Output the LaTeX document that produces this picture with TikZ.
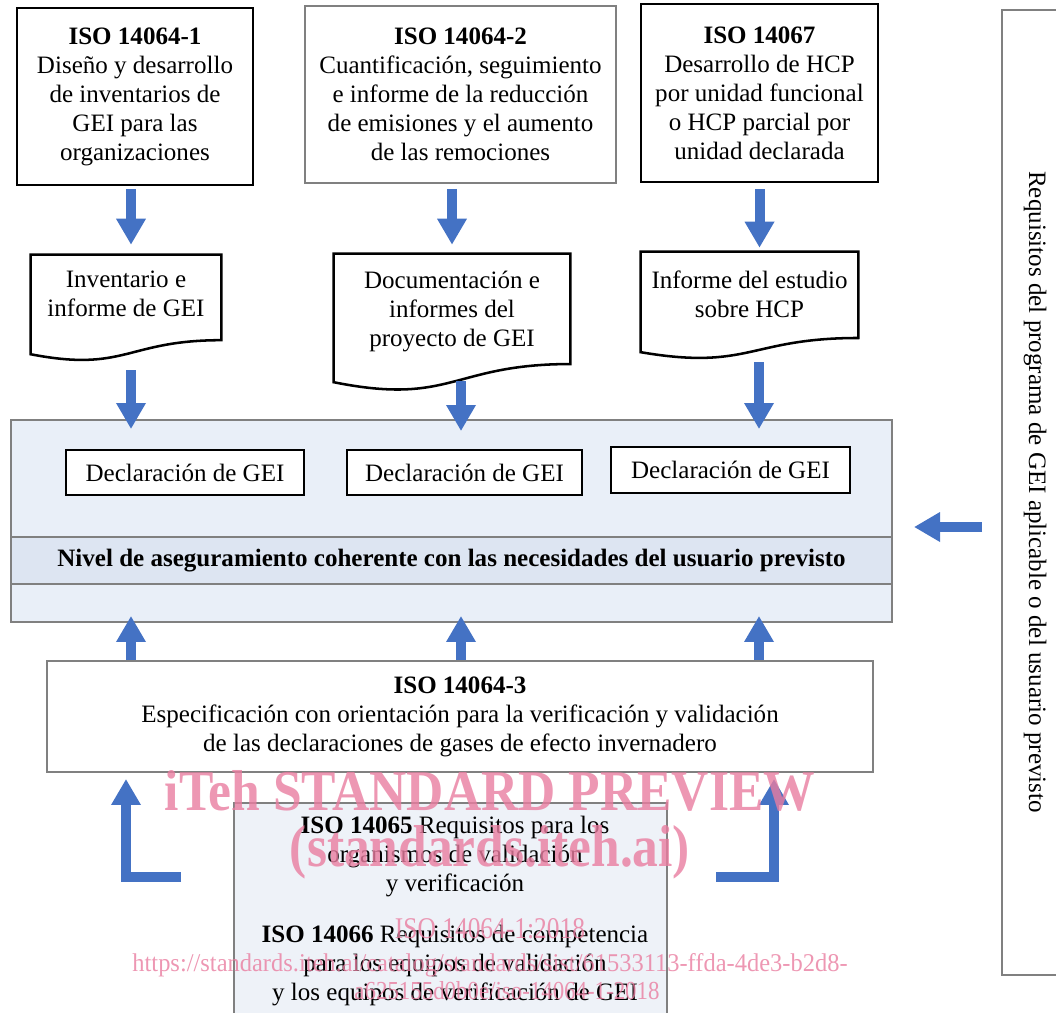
\documentclass[tikz,border=0pt]{standalone}
\usepackage{fontspec}
\setmainfont{Liberation Serif}
\usepackage{xcolor}
\usetikzlibrary{arrows.meta,calc}

\definecolor{arrowblue}{RGB}{68,114,196}
\definecolor{boxgrey}{RGB}{128,128,128}
\definecolor{panelblue}{RGB}{233,239,248}
\definecolor{bandblue}{RGB}{221,229,242}
\definecolor{lowblue}{RGB}{238,242,248}
\definecolor{wmpink}{RGB}{233,125,160}

\newdimen\pxu
\pxu=0.025cm

\tikzset{
  stdbox/.style={draw=black, line width=1.8pt, fill=white, align=center, inner sep=0pt},
  greybox/.style={draw=boxgrey, line width=1.4pt, align=center, inner sep=0pt},
  docframe/.style={inner sep=0pt},
  doctext/.style={anchor=north, align=center, inner sep=0pt},
  bluearrow/.style={draw=arrowblue, line width=10*\pxu, line join=miter,
    -{Triangle[width=0pt 2.8, length=0pt 2.6]}},
  watermark/.style={text=wmpink, text opacity=0.8, inner sep=0pt, anchor=base}
}

% document outline with wavy bottom
\newcommand\docoutline[1]{%
  \draw[draw=black, line width=1.8pt, fill=white] (#1.north west) -- (#1.north east)
    -- ($(#1.north east)!0.802!(#1.south east)$)
    .. controls ($(#1.north)!0.802!(#1.south)$) and ($(#1.north)!1.107!(#1.south)$)
    .. ($(#1.north west)!0.934!(#1.south west)$) -- cycle;}

\begin{document}
\begin{tikzpicture}[x=\pxu, y=-\pxu, font=\fontsize{17.8}{20.6}\selectfont]

        \clip (0,0) rectangle (1056,1012);

        % standards on top
        \node [stdbox, minimum width=236*\pxu, minimum height=177*\pxu] (iso1) at (135,96.5)
          {\textbf{ISO 14064-1}\\Diseño y desarrollo\\de inventarios de\\GEI para las\\organizaciones};
        \node [greybox, fill=white, minimum width=311*\pxu, minimum height=177*\pxu] (iso2) at (460.5,94.5)
          {\textbf{ISO 14064-2}\\Cuantificación, seguimiento\\e informe de la reducción\\de emisiones y el aumento\\de las remociones};
        \node [stdbox, minimum width=237*\pxu, minimum height=178*\pxu] (iso3) at (759.5,93)
          {\textbf{ISO 14067}\\Desarrollo de HCP\\por unidad funcional\\o HCP parcial por\\unidad declarada};

        % reports
        \node [docframe, minimum width=190*\pxu, minimum height=106*\pxu] (inv) at (126,308) {};
        \node [docframe, minimum width=236*\pxu, minimum height=137*\pxu] (proj) at (452,322.5) {};
        \node [docframe, minimum width=217*\pxu, minimum height=107*\pxu] (hcp) at (749.5,305.5) {};
        \docoutline{inv}
        \docoutline{proj}
        \docoutline{hcp}
        \node [doctext] (invtext) at ($(inv.north)+(0,16)$) {Inventario e\\informe de GEI};
        \node [doctext] (projtext) at ($(proj.north)+(0,17)$) {Documentación e\\informes del\\proyecto de GEI};
        \node [doctext] (hcptext) at ($(hcp.north)+(0,19)$) {Informe del estudio\\sobre HCP};

        % declarations panel
        \node [greybox, fill=panelblue, minimum width=881*\pxu, minimum height=202*\pxu] (panel) at (451.5,521) {};
        \node [greybox, fill=bandblue, minimum width=881*\pxu, minimum height=47*\pxu] (band) at (451.5,560.5)
          {\textbf{Nivel de aseguramiento coherente con las necesidades del usuario previsto}};
        \node [stdbox, minimum width=238*\pxu, minimum height=45*\pxu] (decl1) at (185,472.5) {Declaración de GEI};
        \node [stdbox, minimum width=235*\pxu, minimum height=45*\pxu] (decl2) at (464.5,472.5) {Declaración de GEI};
        \node [stdbox, minimum width=239*\pxu, minimum height=46*\pxu] (decl3) at (730.5,470) {Declaración de GEI};

        \node [greybox, fill=white, minimum width=826*\pxu, minimum height=111*\pxu] (iso4) at (460,716.5)
          {\textbf{ISO 14064-3}\\Especificación con orientación para la verificación y validación\\de las declaraciones de gases de efecto invernadero};

        \node [greybox, fill=lowblue, minimum width=433*\pxu, minimum height=230*\pxu] (vvbox) at (450.5,918) {};
        \node [doctext] (vvtext) at ($(vvbox.north)+(4.5,14)$)
          {\textbf{ISO 14065} Requisitos para los\\organismos de validación\\y verificación\\[0.55cm]
           \textbf{ISO 14066} Requisitos de competencia\\para los equipos de validación\\y los equipos de verificación de GEI};

        \node [greybox, minimum width=70*\pxu, minimum height=965*\pxu] (side) at (1037,492.5) {};
        \node [rotate=-90, inner sep=0pt] (sidetext) at (1035,492)
          {Requisitos del programa de GEI aplicable o del usuario previsto};

        % arrows
        \coordinate (col1) at (131,0);
        \coordinate (col2) at (461,0);
        \coordinate (col3) at (759,0);
        \coordinate (sidein) at (982,527);
        \coordinate (lfoot) at (181,877);
        \coordinate (rfoot) at (716,877);
        \coordinate (lrise) at (126,0);
        \coordinate (rrise) at (774,0);

        \draw [bluearrow, shorten <=3*\pxu, shorten >=10*\pxu] (iso1.south -| col1) -- (inv.north -| col1);
        \draw [bluearrow, shorten <=5*\pxu, shorten >=9*\pxu] (iso2.south -| proj.north) -- (proj.north);
        \draw [bluearrow, shorten <=6*\pxu, shorten >=4*\pxu] (iso3.south) -- (iso3.south |- hcp.north);

        \draw [bluearrow, shorten <=9*\pxu, shorten >=-10*\pxu] (inv.south -| col1) -- (panel.north -| col1);
        \draw [bluearrow, shorten <=-10*\pxu, shorten >=-12*\pxu] (proj.south -| col2) -- (panel.north -| col2);
        \draw [bluearrow, shorten <=3*\pxu, shorten >=-10*\pxu] (hcp.south -| col3) -- (panel.north -| col3);

        \draw [bluearrow, shorten >=21*\pxu] (sidein) -- (panel.east |- sidein);

        \draw [bluearrow, shorten >=-7*\pxu] (iso4.north -| col1) -- (panel.south -| col1);
        \draw [bluearrow, shorten >=-7*\pxu] (iso4.north -| col2) -- (panel.south -| col2);
        \draw [bluearrow, shorten >=-7*\pxu] (iso4.north -| col3) -- (panel.south -| col3);

        \draw [bluearrow, shorten >=6*\pxu] (lfoot) -| (iso4.south -| lrise);
        \draw [bluearrow, shorten >=6*\pxu] (rfoot) -| (iso4.south -| rrise);

        % preview watermark
        \node [watermark, font=\bfseries] (wmtitle) at (490,810) {\resizebox{16.25cm}{1cm}{iTeh STANDARD PREVIEW}};
        \node [watermark, font=\bfseries] (wmsite) at (490,866) {\resizebox{10cm}{1.025cm}{(standards.iteh.ai)}};
        \node [watermark] (wmref) at (490,938) {\resizebox{4.75cm}{0.5cm}{ISO 14064-1:2018}};
        \node [watermark] (wmurl) at (490,971) {\resizebox{17.875cm}{0.45cm}{https://standards.iteh.ai/catalog/standards/sist/61533113-ffda-4de3-b2d8-}};
        \node [watermark] (wmurltwo) at (507,999) {\resizebox{7.625cm}{0.45cm}{a625155d0b0e/iso-14064-1-2018}};

\end{tikzpicture}
\end{document}
